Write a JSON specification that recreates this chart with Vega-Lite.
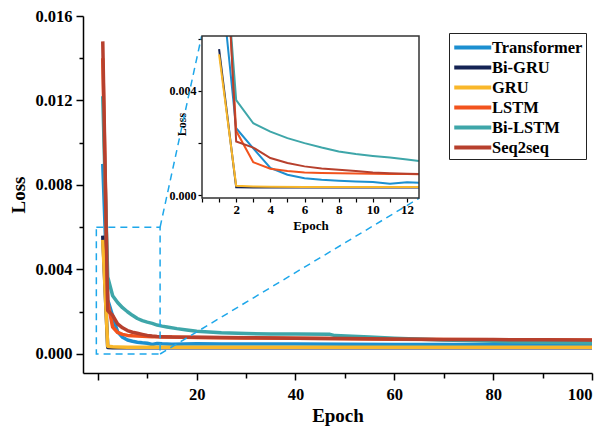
{
  "$schema": "https://vega.github.io/schema/vega-lite/v6.json",
  "width": 509,
  "height": 357,
  "autosize": {"type": "none"},
  "padding": {"left": 83, "top": 16, "right": 18, "bottom": 58},
  "background": "white",
  "config": {
    "view": {"stroke": null},
    "font": "Liberation Serif",
    "axis": {
      "grid": false,
      "domainColor": "black",
      "domainWidth": 1.5,
      "tickColor": "black",
      "tickWidth": 1.5,
      "labelFont": "Liberation Serif",
      "labelFontWeight": "bold",
      "labelColor": "black",
      "titleFont": "Liberation Serif",
      "titleFontWeight": "bold",
      "titleColor": "black"
    }
  },
  "datasets": {
    "loss": [
      {"model": "Transformer", "epoch": 1, "loss": 0.0090},
      {"model": "Transformer", "epoch": 2, "loss": 0.00257},
      {"model": "Transformer", "epoch": 3, "loss": 0.0018},
      {"model": "Transformer", "epoch": 4, "loss": 0.00105},
      {"model": "Transformer", "epoch": 5, "loss": 0.00079},
      {"model": "Transformer", "epoch": 6, "loss": 0.00066},
      {"model": "Transformer", "epoch": 7, "loss": 0.0006},
      {"model": "Transformer", "epoch": 8, "loss": 0.00056},
      {"model": "Transformer", "epoch": 9, "loss": 0.00053},
      {"model": "Transformer", "epoch": 10, "loss": 0.00051},
      {"model": "Transformer", "epoch": 11, "loss": 0.00045},
      {"model": "Transformer", "epoch": 12, "loss": 0.0005},
      {"model": "Transformer", "epoch": 13, "loss": 0.00048},
      {"model": "Transformer", "epoch": 15, "loss": 0.00046},
      {"model": "Transformer", "epoch": 20, "loss": 0.00048},
      {"model": "Transformer", "epoch": 25, "loss": 0.00047},
      {"model": "Transformer", "epoch": 30, "loss": 0.00047},
      {"model": "Transformer", "epoch": 40, "loss": 0.00047},
      {"model": "Transformer", "epoch": 50, "loss": 0.00046},
      {"model": "Transformer", "epoch": 60, "loss": 0.00045},
      {"model": "Transformer", "epoch": 70, "loss": 0.00045},
      {"model": "Transformer", "epoch": 80, "loss": 0.00044},
      {"model": "Transformer", "epoch": 90, "loss": 0.00044},
      {"model": "Transformer", "epoch": 100, "loss": 0.00043},

      {"model": "Bi-GRU", "epoch": 1, "loss": 0.0056},
      {"model": "Bi-GRU", "epoch": 2, "loss": 0.00031},
      {"model": "Bi-GRU", "epoch": 3, "loss": 0.0003},
      {"model": "Bi-GRU", "epoch": 4, "loss": 0.0003},
      {"model": "Bi-GRU", "epoch": 6, "loss": 0.0003},
      {"model": "Bi-GRU", "epoch": 8, "loss": 0.0003},
      {"model": "Bi-GRU", "epoch": 10, "loss": 0.0003},
      {"model": "Bi-GRU", "epoch": 12, "loss": 0.0003},
      {"model": "Bi-GRU", "epoch": 13, "loss": 0.0003},
      {"model": "Bi-GRU", "epoch": 20, "loss": 0.0003},
      {"model": "Bi-GRU", "epoch": 40, "loss": 0.0003},
      {"model": "Bi-GRU", "epoch": 60, "loss": 0.0003},
      {"model": "Bi-GRU", "epoch": 80, "loss": 0.0003},
      {"model": "Bi-GRU", "epoch": 100, "loss": 0.0003},

      {"model": "GRU", "epoch": 1, "loss": 0.0054},
      {"model": "GRU", "epoch": 2, "loss": 0.00037},
      {"model": "GRU", "epoch": 3, "loss": 0.00034},
      {"model": "GRU", "epoch": 4, "loss": 0.00033},
      {"model": "GRU", "epoch": 6, "loss": 0.00032},
      {"model": "GRU", "epoch": 8, "loss": 0.00032},
      {"model": "GRU", "epoch": 10, "loss": 0.00032},
      {"model": "GRU", "epoch": 12, "loss": 0.00032},
      {"model": "GRU", "epoch": 13, "loss": 0.00032},
      {"model": "GRU", "epoch": 20, "loss": 0.00032},
      {"model": "GRU", "epoch": 40, "loss": 0.00032},
      {"model": "GRU", "epoch": 60, "loss": 0.00032},
      {"model": "GRU", "epoch": 80, "loss": 0.00032},
      {"model": "GRU", "epoch": 100, "loss": 0.00032},

      {"model": "LSTM", "epoch": 1, "loss": 0.0140},
      {"model": "LSTM", "epoch": 2, "loss": 0.00247},
      {"model": "LSTM", "epoch": 3, "loss": 0.00127},
      {"model": "LSTM", "epoch": 4, "loss": 0.00102},
      {"model": "LSTM", "epoch": 5, "loss": 0.00093},
      {"model": "LSTM", "epoch": 6, "loss": 0.00088},
      {"model": "LSTM", "epoch": 7, "loss": 0.00086},
      {"model": "LSTM", "epoch": 8, "loss": 0.00085},
      {"model": "LSTM", "epoch": 9, "loss": 0.00084},
      {"model": "LSTM", "epoch": 10, "loss": 0.00083},
      {"model": "LSTM", "epoch": 11, "loss": 0.00082},
      {"model": "LSTM", "epoch": 12, "loss": 0.00082},
      {"model": "LSTM", "epoch": 13, "loss": 0.00081},
      {"model": "LSTM", "epoch": 15, "loss": 0.0008},
      {"model": "LSTM", "epoch": 20, "loss": 0.00078},
      {"model": "LSTM", "epoch": 30, "loss": 0.00076},
      {"model": "LSTM", "epoch": 40, "loss": 0.00074},
      {"model": "LSTM", "epoch": 50, "loss": 0.00072},
      {"model": "LSTM", "epoch": 60, "loss": 0.0007},
      {"model": "LSTM", "epoch": 70, "loss": 0.00068},
      {"model": "LSTM", "epoch": 80, "loss": 0.00067},
      {"model": "LSTM", "epoch": 90, "loss": 0.00066},
      {"model": "LSTM", "epoch": 100, "loss": 0.00065},

      {"model": "Bi-LSTM", "epoch": 1, "loss": 0.0122},
      {"model": "Bi-LSTM", "epoch": 2, "loss": 0.00365},
      {"model": "Bi-LSTM", "epoch": 3, "loss": 0.00276},
      {"model": "Bi-LSTM", "epoch": 4, "loss": 0.00244},
      {"model": "Bi-LSTM", "epoch": 5, "loss": 0.00219},
      {"model": "Bi-LSTM", "epoch": 6, "loss": 0.002},
      {"model": "Bi-LSTM", "epoch": 7, "loss": 0.00183},
      {"model": "Bi-LSTM", "epoch": 8, "loss": 0.00168},
      {"model": "Bi-LSTM", "epoch": 9, "loss": 0.00158},
      {"model": "Bi-LSTM", "epoch": 10, "loss": 0.00151},
      {"model": "Bi-LSTM", "epoch": 11, "loss": 0.00145},
      {"model": "Bi-LSTM", "epoch": 12, "loss": 0.00137},
      {"model": "Bi-LSTM", "epoch": 13, "loss": 0.00132},
      {"model": "Bi-LSTM", "epoch": 14, "loss": 0.00128},
      {"model": "Bi-LSTM", "epoch": 16, "loss": 0.0012},
      {"model": "Bi-LSTM", "epoch": 18, "loss": 0.00114},
      {"model": "Bi-LSTM", "epoch": 20, "loss": 0.00108},
      {"model": "Bi-LSTM", "epoch": 25, "loss": 0.001},
      {"model": "Bi-LSTM", "epoch": 30, "loss": 0.00097},
      {"model": "Bi-LSTM", "epoch": 35, "loss": 0.00095},
      {"model": "Bi-LSTM", "epoch": 40, "loss": 0.00095},
      {"model": "Bi-LSTM", "epoch": 47, "loss": 0.00093},
      {"model": "Bi-LSTM", "epoch": 48, "loss": 0.00087},
      {"model": "Bi-LSTM", "epoch": 55, "loss": 0.0008},
      {"model": "Bi-LSTM", "epoch": 60, "loss": 0.00075},
      {"model": "Bi-LSTM", "epoch": 70, "loss": 0.00066},
      {"model": "Bi-LSTM", "epoch": 80, "loss": 0.0006},
      {"model": "Bi-LSTM", "epoch": 90, "loss": 0.00055},
      {"model": "Bi-LSTM", "epoch": 100, "loss": 0.00052},

      {"model": "Seq2seq", "epoch": 1, "loss": 0.0148},
      {"model": "Seq2seq", "epoch": 2, "loss": 0.00206},
      {"model": "Seq2seq", "epoch": 3, "loss": 0.00183},
      {"model": "Seq2seq", "epoch": 4, "loss": 0.00143},
      {"model": "Seq2seq", "epoch": 5, "loss": 0.00124},
      {"model": "Seq2seq", "epoch": 6, "loss": 0.00111},
      {"model": "Seq2seq", "epoch": 7, "loss": 0.00103},
      {"model": "Seq2seq", "epoch": 8, "loss": 0.00098},
      {"model": "Seq2seq", "epoch": 9, "loss": 0.00093},
      {"model": "Seq2seq", "epoch": 10, "loss": 0.00088},
      {"model": "Seq2seq", "epoch": 11, "loss": 0.00085},
      {"model": "Seq2seq", "epoch": 12, "loss": 0.00083},
      {"model": "Seq2seq", "epoch": 13, "loss": 0.00082},
      {"model": "Seq2seq", "epoch": 15, "loss": 0.0008},
      {"model": "Seq2seq", "epoch": 20, "loss": 0.00079},
      {"model": "Seq2seq", "epoch": 30, "loss": 0.00077},
      {"model": "Seq2seq", "epoch": 40, "loss": 0.00075},
      {"model": "Seq2seq", "epoch": 50, "loss": 0.00073},
      {"model": "Seq2seq", "epoch": 60, "loss": 0.00071},
      {"model": "Seq2seq", "epoch": 70, "loss": 0.00069},
      {"model": "Seq2seq", "epoch": 80, "loss": 0.00068},
      {"model": "Seq2seq", "epoch": 90, "loss": 0.00067},
      {"model": "Seq2seq", "epoch": 100, "loss": 0.00066}
    ]
  },
  "layer": [
    {
      "layer": [
        {
          "data": {"name": "loss"},
          "mark": {"type": "line", "strokeWidth": 3.5, "strokeJoin": "round"},
          "encoding": {
            "x": {
              "field": "epoch", "type": "quantitative",
              "scale": {"domain": [-3, 100], "nice": false, "zero": false},
              "axis": {
                "values": [0, 10, 20, 30, 40, 50, 60, 70, 80, 90, 100],
                "labelExpr": "datum.value > 0 && datum.value % 20 == 0 ? datum.label : ''",
                "tickSize": {"condition": {"test": "datum.value % 20 != 0", "value": 5}, "value": 7},
                "labelFontSize": 16.5,
                "labelPadding": 6,
                "title": "Epoch",
                "titleFontSize": 19,
                "titleY": 42,
                "titleBaseline": "middle"
              }
            },
            "y": {
              "field": "loss", "type": "quantitative",
              "scale": {"domain": [-0.0009, 0.016], "nice": false, "zero": false},
              "axis": {
                "values": [0, 0.002, 0.004, 0.006, 0.008, 0.01, 0.012, 0.014, 0.016],
                "labelExpr": "round(datum.value * 1000) % 4 == 0 ? format(datum.value, '.3f') : ''",
                "tickSize": {"condition": {"test": "round(datum.value * 1000) % 4 != 0", "value": 4}, "value": 7},
                "labelFontSize": 16.5,
                "labelPadding": 4,
                "title": "Loss",
                "titleFontSize": 19,
                "titleX": -65,
                "titleBaseline": "middle"
              }
            },
            "color": {
              "field": "model", "type": "nominal",
              "scale": {
                "domain": ["Transformer", "Bi-GRU", "GRU", "LSTM", "Bi-LSTM", "Seq2seq"],
                "range": ["#1c8fd0", "#142354", "#f9b72a", "#f2531d", "#3ea6a9", "#b7402d"]
              },
              "legend": {
                "orient": "none",
                "legendX": 366,
                "legendY": 17,
                "title": null,
                "symbolType": "M-1,0H3",
                "symbolSize": 342,
                "symbolStrokeWidth": 4,
                "labelFont": "Liberation Serif",
                "labelFontWeight": "bold",
                "labelFontSize": 16.5,
                "labelColor": "black",
                "labelOffset": 17,
                "labelLimit": 300,
                "rowPadding": 0,
                "padding": 3,
                "strokeColor": "#222",
                "fillColor": "white"
              }
            }
          }
        },
        {
          "data": {"values": [{"epoch": -0.3, "epoch2": 12.6, "loss": 0, "loss2": 0.006}]},
          "mark": {"type": "rect", "filled": false, "stroke": "#1ea7ea", "strokeWidth": 1.5, "strokeDash": [7, 5]},
          "encoding": {
            "x": {"field": "epoch", "type": "quantitative"},
            "x2": {"field": "epoch2"},
            "y": {"field": "loss", "type": "quantitative"},
            "y2": {"field": "loss2"}
          }
        },
        {
          "data": {"values": [
            {"epoch": 12.6, "loss": 0.006, "epoch2": 21.0, "loss2": 0.01505},
            {"epoch": 12.6, "loss": 0, "epoch2": 65.05, "loss2": 0.00738}
          ]},
          "mark": {"type": "rule", "stroke": "#1ea7ea", "strokeWidth": 1.5, "strokeDash": [7, 5]},
          "encoding": {
            "x": {"field": "epoch", "type": "quantitative"},
            "x2": {"field": "epoch2"},
            "y": {"field": "loss", "type": "quantitative"},
            "y2": {"field": "loss2"}
          }
        }
      ]
    },
    {
      "layer": [
        {
          "data": {"values": [{"epoch": 0, "epoch2": 12.7, "loss": -0.0001, "loss2": 0.0061}]},
          "mark": {"type": "rect", "fill": "white", "stroke": null},
          "encoding": {
            "x": {"field": "epoch", "type": "quantitative"},
            "x2": {"field": "epoch2"},
            "y": {"field": "loss", "type": "quantitative"},
            "y2": {"field": "loss2"}
          }
        },
        {
          "data": {"name": "loss"},
          "transform": [{"filter": "datum.epoch <= 13"}],
          "mark": {"type": "line", "strokeWidth": 2, "clip": true},
          "encoding": {
            "x": {
              "field": "epoch", "type": "quantitative",
              "scale": {"domain": [0, 12.7], "range": [119, 336], "nice": false, "zero": false, "clamp": true},
              "axis": {
                "orient": "bottom",
                "offset": -175,
                "domain": false,
                "values": [0, 1, 2, 3, 4, 5, 6, 7, 8, 9, 10, 11, 12],
                "labelExpr": "datum.value > 0 && datum.value % 2 == 0 ? datum.label : ''",
                "tickSize": 4,
                "tickWidth": 1.2,
                "labelFontSize": 13,
                "labelPadding": 1,
                "title": "Epoch",
                "titleFontSize": 13,
                "titlePadding": 3
              }
            },
            "y": {
              "field": "loss", "type": "quantitative",
              "scale": {"domain": [-0.0001, 0.0061], "range": [182, 20], "nice": false, "zero": false},
              "axis": {
                "orient": "left",
                "offset": -119,
                "domain": false,
                "values": [0, 0.002, 0.004, 0.006],
                "labelExpr": "round(datum.value * 1000) % 4 == 0 ? format(datum.value, '.3f') : ''",
                "tickSize": 4,
                "tickWidth": 1.2,
                "labelFontSize": 12,
                "labelPadding": 2,
                "title": "Loss",
                "titleFontSize": 12,
                "titleX": -21,
                "titleY": 108,
                "titleBaseline": "middle"
              }
            },
            "color": {"field": "model", "type": "nominal", "legend": null}
          }
        },
        {
          "data": {"values": [{"epoch": 0, "epoch2": 12.7, "loss": 0.0061, "loss2": 0.0080}]},
          "mark": {"type": "rect", "fill": "white", "stroke": null, "clip": true},
          "encoding": {
            "x": {"field": "epoch", "type": "quantitative"},
            "x2": {"field": "epoch2"},
            "y": {"field": "loss", "type": "quantitative"},
            "y2": {"field": "loss2"}
          }
        },
        {
          "data": {"values": [{"epoch": 0, "epoch2": 12.7, "loss": -0.0001, "loss2": 0.0061}]},
          "mark": {"type": "rect", "filled": false, "stroke": "#333333", "strokeWidth": 1.5},
          "encoding": {
            "x": {"field": "epoch", "type": "quantitative"},
            "x2": {"field": "epoch2"},
            "y": {"field": "loss", "type": "quantitative"},
            "y2": {"field": "loss2"}
          }
        }
      ]
    }
  ],
  "resolve": {
    "scale": {"x": "independent", "y": "independent"},
    "axis": {"x": "independent", "y": "independent"}
  }
}
